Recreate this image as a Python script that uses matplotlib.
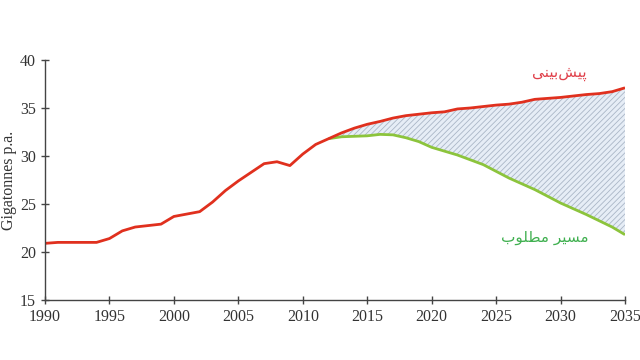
import matplotlib
matplotlib.use("Agg")
import matplotlib.pyplot as plt
import numpy as np

years = [1990, 1991, 1994, 1995, 1996, 1997, 1999, 2000, 2002, 2003, 2004, 2005,
         2006, 2007, 2008, 2009, 2010, 2011, 2012, 2013, 2014, 2015, 2016, 2017,
         2018, 2019, 2020, 2021, 2022, 2023, 2024, 2025, 2026, 2027, 2028, 2029,
         2030, 2031, 2032, 2033, 2034, 2035]
forecast = [20.9, 21.0, 21.0, 21.4, 22.2, 22.6, 22.9, 23.7, 24.2, 25.2, 26.4, 27.4,
            28.3, 29.2, 29.4, 29.0, 30.2, 31.2, 31.8, 32.4, 32.9, 33.3, 33.6, 33.95,
            34.2, 34.35, 34.5, 34.6, 34.9, 35.0, 35.15, 35.3, 35.4, 35.6, 35.9, 36.0,
            36.1, 36.25, 36.4, 36.5, 36.7, 37.1]

path_years = [2012, 2013, 2015, 2016, 2017, 2018, 2019, 2020, 2022, 2024, 2026,
              2028, 2030, 2032, 2034, 2035]
path_vals = [31.8, 32.0, 32.1, 32.25, 32.2, 31.9, 31.5, 30.9, 30.1, 29.1, 27.7,
             26.5, 25.1, 23.9, 22.6, 21.8]

xticks = [1990, 1995, 2000, 2005, 2010, 2015, 2020, 2025, 2030, 2035]
yticks = [15, 20, 25, 30, 35, 40]

label_forecast = "\uFBFD\uFEE8\uFBFF\uFE91\uFEB6\uFBFF\uFB58"
label_path = "\uFE8F\uFEEE\uFEE0\uFEC4\uFEE3 \uFEAE\uFBFF\uFEB4\uFEE3"

red = "#e0301e"
green = "#8cc43c"

fig = plt.figure(figsize=(6.4, 3.6), dpi=100)
ax = fig.add_axes([0.0703, 0.1667, 0.9063, 0.6667])

fc_interp = np.interp(path_years, years, forecast)
plt.rcParams['hatch.color'] = '#a8b4c4'
plt.rcParams['hatch.linewidth'] = 0.6
ax.fill_between(path_years, path_vals, fc_interp, facecolor="#e6edf6",
                hatch="//////", edgecolor="#aab6c6", linewidth=0)
ax.plot(path_years, path_vals, color=green, lw=2.0, solid_capstyle="butt")
ax.plot(years, forecast, color=red, lw=2.0, solid_capstyle="butt")

ax.set_xlim(1990, 2035)
ax.set_ylim(15, 40)
ax.set_xticks(xticks)
ax.set_yticks(yticks)
for s in ["top", "right"]:
    ax.spines[s].set_visible(False)
for s in ["left", "bottom"]:
    ax.spines[s].set_color("#444444")
    ax.spines[s].set_linewidth(1.0)
ax.tick_params(direction="inout", length=6, width=1, color="#444444",
               labelsize=11.5, labelcolor="#333333")
for lbl in ax.get_xticklabels() + ax.get_yticklabels():
    lbl.set_fontfamily("Liberation Serif")
ax.set_ylabel("Gigatonnes p.a.", fontfamily="Liberation Serif", fontsize=11.5,
              color="#333333", labelpad=2)

ax.text(2029.9, 38.6, label_forecast, color="#e0404a", fontsize=11,
        family=["DejaVu Sans"], ha="center", va="center")
ax.text(2028.8, 21.5, label_path, color="#40b050", fontsize=11,
        family=["DejaVu Sans"], ha="center", va="center")

fig.savefig("out.png", dpi=100)
